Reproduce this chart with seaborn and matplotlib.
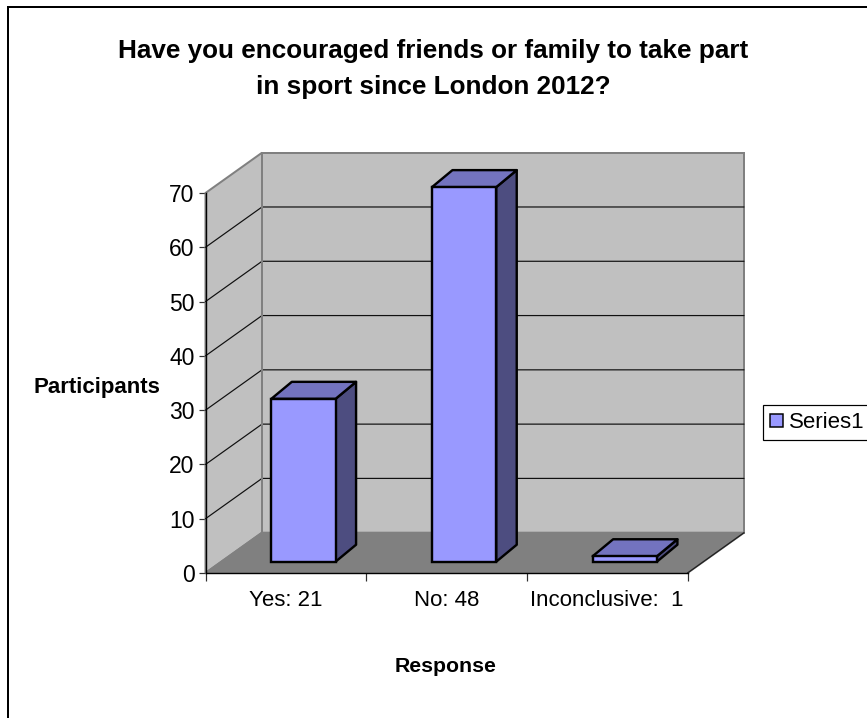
import matplotlib
matplotlib.use("Agg")
import matplotlib.pyplot as plt
from matplotlib.patches import Polygon
from matplotlib.ticker import FixedLocator, FixedFormatter
import seaborn as sns
import pandas as pd

categories = ["Yes: 21", "No: 48", "Inconclusive:  1"]
values = [30, 69, 1]
series_name = "Series1"
y_ticks = [0, 10, 20, 30, 40, 50, 60, 70]
title_text = "Have you encouraged friends or family to take part\nin sport since London 2012?"
x_label = "Response"
y_label = "Participants"

W, H = 867, 718
sns.set_style("white")
plt.rcParams["font.family"] = ["Liberation Sans", "DejaVu Sans"]
plt.rcParams["text.color"] = "black"
plt.rcParams["axes.labelcolor"] = "black"
plt.rcParams["xtick.labelcolor"] = "black"
plt.rcParams["ytick.labelcolor"] = "black"

FRONT = "#9999FF"
TOP = "#7373BF"
SIDE = "#4D4D80"
WALL = "#C0C0C0"
FLOOR = "#808080"
px = 0.72  # one pixel in points at dpi 100

fig = plt.figure(figsize=(W / 100, H / 100), dpi=100, facecolor="white")


def box(left, top, right, bottom):
    return [left / W, 1 - bottom / H, (right - left) / W, (bottom - top) / H]


L, R, T, B = 205.5, 687.5, 193.0, 573.0
ax = fig.add_axes(box(L, T, R, B), facecolor="none", zorder=1)
ax.set_xlim(-0.5, 2.5)
ax.set_ylim(0, 70)
ux = (R - L) / 3
uy = (B - T) / 70

# depth of the box, in data units of the main axes
dx, dy = 56.5 / ux, 40.3 / uy
x0, x1 = -0.5, 2.5
y0, y1 = y_ticks[0], y_ticks[-1]
wall_kw = dict(clip_on=False, lw=2 * px, joinstyle="miter")
ax.add_patch(Polygon([(x0 + dx, y0 + dy), (x1 + dx, y0 + dy), (x1 + dx, y1 + dy), (x0 + dx, y1 + dy)],
                     fc=WALL, ec=FLOOR, zorder=1, **wall_kw))
ax.add_patch(Polygon([(x0, y0), (x0 + dx, y0 + dy), (x0 + dx, y1 + dy), (x0, y1)],
                     fc=WALL, ec=FLOOR, zorder=1, **wall_kw))
ax.add_patch(Polygon([(x0, y0), (x1, y0), (x1 + dx, y0 + dy), (x0 + dx, y0 + dy)],
                     fc=FLOOR, ec=FLOOR, zorder=1.1, **wall_kw))
ax.plot([x1, x1 + dx], [y0, y0 + dy], color="#202020", lw=1.3 * px, clip_on=False, zorder=1.2)
for t in y_ticks[1:-1]:
    ax.plot([x0, x0 + dx, x1 + dx], [t, t + dy, t + dy], color="#101010", lw=1.2 * px,
            clip_on=False, zorder=1.2)
ax.plot([x0 + dx, x0 + dx], [y0 + dy, y1 + dy], color=FLOOR, lw=2 * px, clip_on=False, zorder=1.3)

# axes furniture
sns.despine(ax=ax, top=True, right=True)
for s in ("left", "bottom"):
    ax.spines[s].set_color("black")
    ax.spines[s].set_linewidth(1.4 * px)
ax.set_yticks(y_ticks)
ax.set_xticks([-0.5, 0.5, 1.5, 2.5])
ax.set_xticklabels([])
ax.xaxis.set_minor_locator(FixedLocator([0, 1, 2]))
ax.xaxis.set_minor_formatter(FixedFormatter(categories))
ax.tick_params(axis="x", which="major", bottom=True, length=5.5, width=1.2 * px, color="#303030")
ax.tick_params(axis="x", which="minor", bottom=False, length=0, pad=12.5, labelsize=16, labelcolor="black")
ax.tick_params(axis="y", left=True, length=5, width=1.2 * px, color="#303030", pad=3, labelsize=16.5,
               labelcolor="black")
ax.set_ylabel(y_label, rotation=0, fontsize=16, fontweight="bold", ha="center", va="center", color="black")
ax.yaxis.set_label_coords((97 - L) / (R - L), (B - 388) / (B - T))
ax.set_xlabel(x_label, fontsize=15.3, fontweight="bold", ha="center", va="center", color="black")
ax.xaxis.set_label_coords((446 - L) / (R - L), (B - 667) / (B - T))

# bars live on an overlay axes pushed part-way into the box
ox, oy = 17.6, 11.3
bar_ax = fig.add_axes(box(L + ox, T - oy, R + ox, B - oy), facecolor="none", zorder=2)
df = pd.DataFrame({"response": categories, "value": values})
sns.barplot(data=df, x="response", y="value", ax=bar_ax, color=FRONT, saturation=1, width=0.4,
            edgecolor="black", linewidth=2.4 * px, label=series_name, legend=True)
bar_ax.set_xlim(-0.5, 2.5)
bar_ax.set_ylim(0, 70)
bar_ax.set_xlabel("")
bar_ax.set_ylabel("")
bdx, bdy = 20.5 / ux, 17 / uy
for p in list(bar_ax.patches):
    p.set_clip_on(False)
    p.set_zorder(3)
    p.set_joinstyle("miter")
    a, w, h = p.get_x(), p.get_width(), p.get_height()
    bar_ax.add_patch(Polygon([(a + w, 0), (a + w + bdx, bdy), (a + w + bdx, h + bdy), (a + w, h)],
                             fc=SIDE, ec="black", lw=2.4 * px, clip_on=False, zorder=2, joinstyle="round"))
    bar_ax.add_patch(Polygon([(a, h), (a + w, h), (a + w + bdx, h + bdy), (a + bdx, h + bdy)],
                             fc=TOP, ec="black", lw=2.4 * px, clip_on=False, zorder=2, joinstyle="round"))
for s in bar_ax.spines.values():
    s.set_visible(False)
bar_ax.set_xticks([])
bar_ax.set_yticks([])

leg = bar_ax.legend(loc="lower left", bbox_to_anchor=(762.5 / W, 1 - 440.5 / H), bbox_transform=fig.transFigure,
                    fontsize=16, frameon=True, fancybox=False, framealpha=1, edgecolor="black",
                    borderaxespad=0, borderpad=0.33, handlelength=0.58, handleheight=0.55,
                    handletextpad=0.3, labelcolor="black")
leg.get_frame().set_linewidth(1.2 * px)
leg.get_frame().set_clip_on(False)
for hd in leg.get_patches():
    hd.set_linewidth(1.5 * px)
    hd.set_edgecolor("black")

fig.suptitle(title_text, x=433 / W, y=1 - 69 / H, fontsize=18.8, fontweight="bold", ha="center", va="center",
             linespacing=1.65, color="black")

# chart-area border: only top and left fall inside the picture
fig.add_artist(plt.Line2D([8 / W, 8 / W, 1], [0, 1 - 7 / H, 1 - 7 / H], color="black", lw=2 * px,
                          transform=fig.transFigure, solid_joinstyle="miter"))

fig.savefig("out.png", dpi=100, facecolor="white")
